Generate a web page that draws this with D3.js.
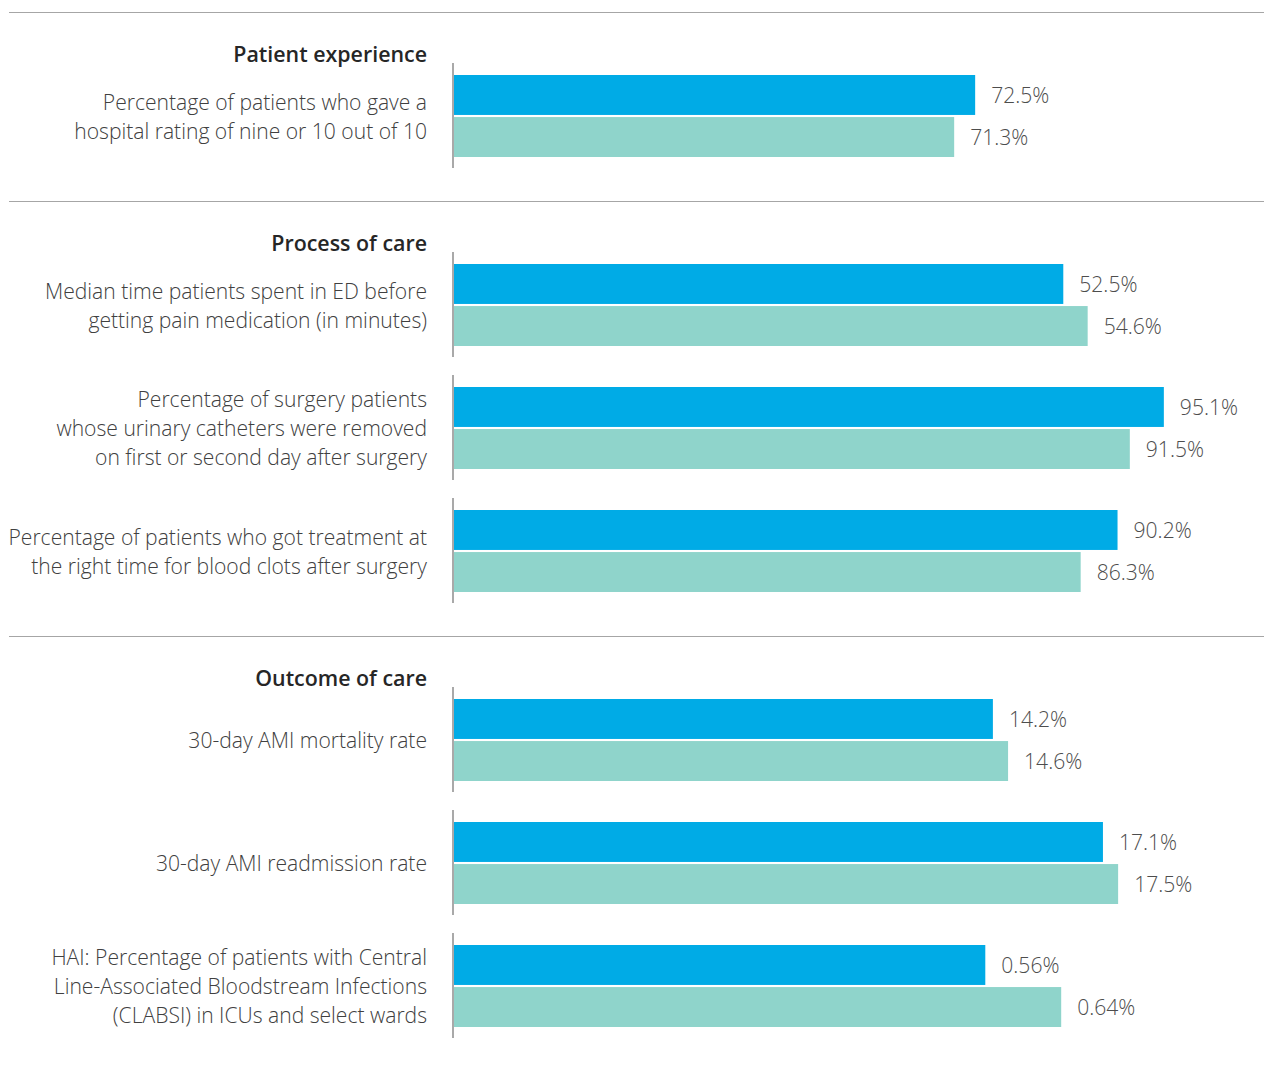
<!DOCTYPE html>
<html>
<head>
<meta charset="utf-8">
<script src="https://cdn.jsdelivr.net/npm/d3@7"></script>
<style>
  body { margin: 0; background: #fff; }
  svg { display: block; font-family: "Open Sans", sans-serif; }
</style>
</head>
<body>
<svg></svg>
<script>
// groups and metrics
let groups = ['Patient experience', 'Process of care', 'Outcome of care']
let metricGroup = [0, 1, 1, 1, 2, 2, 2]
let metricLabels = [
    ['Percentage of patients who gave a', 'hospital rating of nine or 10 out of 10'],
    ['Median time patients spent in ED before', 'getting pain medication (in minutes)'],
    ['Percentage of surgery patients', 'whose urinary catheters were removed', 'on first or second day after surgery'],
    ['Percentage of patients who got treatment at', 'the right time for blood clots after surgery'],
    ['30-day AMI mortality rate'],
    ['30-day AMI readmission rate'],
    ['HAI: Percentage of patients with Central', 'Line-Associated Bloodstream Infections', '(CLABSI) in ICUs and select wards']
]
let seriesA = [72.5, 52.5, 95.1, 90.2, 14.2, 17.1, 0.56]
let seriesB = [71.3, 54.6, 91.5, 86.3, 14.6, 17.5, 0.64]
let valueText = [['72.5%', '71.3%'], ['52.5%', '54.6%'], ['95.1%', '91.5%'], ['90.2%', '86.3%'],
                 ['14.2%', '14.6%'], ['17.1%', '17.5%'], ['0.56%', '0.64%']]
// each metric has its own value axis (not shared)
let domainMin = [42.7, 0, 20, 20, 0, 0, 0]
let domainMax = [86.1, 65.4, 100.3, 100.3, 20, 20, 0.8]

let width = 1264
let height = 1065
let axisX = 454
let barRange = 759
let labelRight = 427
let headSize = 21.4
let labelSize = 21.1
let colors = ['#00abe6', '#8fd4cb']

let svg = d3.select('svg').attr('width', width).attr('height', height)

// vertical layout
let sepY = []
let metricTop = []
let y = 12
groups.forEach((g, gi) => {
    sepY.push(y)
    let idx = metricGroup.map((d, i) => d == gi ? i : -1).filter(i => i >= 0)
    idx.forEach((m, k) => { metricTop[m] = y + 51 + 123 * k })
    y = y + 66 + 123 * idx.length
})

// separators + headers
groups.forEach((g, gi) => {
    svg.append('line')
        .attr('x1', 9).attr('x2', width)
        .attr('y1', sepY[gi] + 0.5).attr('y2', sepY[gi] + 0.5)
        .attr('stroke', '#a6a6a6').attr('stroke-width', 1)
    svg.append('text')
        .attr('x', labelRight).attr('y', sepY[gi] + 49.5)
        .attr('text-anchor', 'end')
        .attr('font-size', headSize).attr('font-weight', 600)
        .attr('fill', '#262626')
        .text(g)
})

metricLabels.forEach((lines, m) => {
    let top = metricTop[m]
    let xscale = d3.scaleLinear().domain([domainMin[m], domainMax[m]]).range([0, barRange])
    let yscale = d3.scaleBand().domain([0, 1]).range([top + 12, top + 94]).paddingInner(0.05)
    let vals = [seriesA[m], seriesB[m]]

    let g = svg.append('g')

    g.selectAll('rect')
        .data(vals)
        .enter()
        .append('rect')
        .attr('x', axisX)
        .attr('y', (d, i) => yscale(i))
        .attr('width', d => xscale(d))
        .attr('height', yscale.bandwidth())
        .attr('fill', (d, i) => colors[i])

    g.selectAll('.val')
        .data(vals)
        .enter()
        .append('text')
        .attr('class', 'val')
        .attr('x', d => axisX + xscale(d) + 16)
        .attr('y', (d, i) => yscale(i) + yscale.bandwidth() / 2)
        .attr('dy', '0.4em')
        .attr('font-size', labelSize).attr('font-weight', 300)
        .attr('fill', '#4d4d4d')
        .text((d, i) => valueText[m][i])

    // axis line
    g.append('line')
        .attr('x1', axisX - 1).attr('x2', axisX - 1)
        .attr('y1', top).attr('y2', top + 105)
        .attr('stroke', '#8c8c8c').attr('stroke-width', 1.5)

    let cy = top + 53
    let lh = 29
    g.append('text')
        .attr('text-anchor', 'end')
        .attr('font-size', labelSize).attr('font-weight', 300)
        .attr('fill', '#404040')
        .selectAll('tspan')
        .data(lines)
        .enter()
        .append('tspan')
        .attr('x', labelRight)
        .attr('y', (d, i) => cy + (i - (lines.length - 1) / 2) * lh)
        .attr('dy', '0.38em')
        .text(d => d)
})
</script>
</body>
</html>
